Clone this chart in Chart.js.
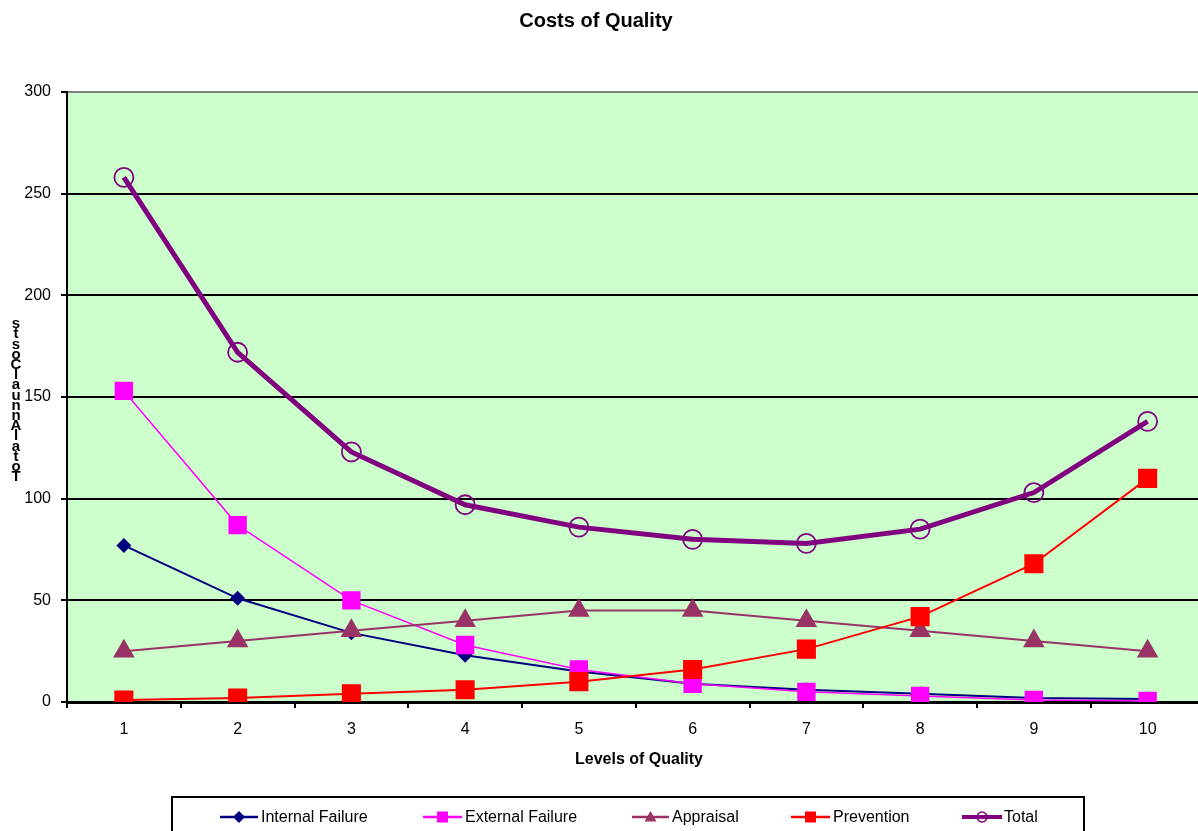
<!DOCTYPE html>
<html>
<head>
<meta charset="utf-8">
<script src="https://cdn.jsdelivr.net/npm/chart.js@4.4.1/dist/chart.umd.min.js"></script>
<style>
html,body{margin:0;padding:0;background:#fff;overflow:hidden;}
#wrap{width:1218px;height:831px;position:relative;}
</style>
</head>
<body>
<div id="wrap"><canvas id="c" width="1218" height="831"></canvas></div>
<script>
const categories = ['1','2','3','4','5','6','7','8','9','10'];
const internalFailure = [77, 51, 34, 23, 15, 9, 6, 4, 2, 1.5];
const externalFailure = [153, 87, 50, 28, 16, 9, 5, 3, 1, 0.5];
const appraisal = [25, 30, 35, 40, 45, 45, 40, 35, 30, 25];
const prevention = [1, 2, 4, 6, 10, 16, 26, 42, 68, 110];
const total = [258, 172, 123, 97, 86, 80, 78, 85, 103, 138];
const yTicks = [0, 50, 100, 150, 200, 250, 300];
const chartTitle = 'Costs of Quality';
const xTitle = 'Levels of Quality';
const yTitle = 'Total Annual Costs';

const FONT = '"Liberation Sans", Arial, sans-serif';

const seriesStyle = [
  {label:'Internal Failure', data: internalFailure, color:'#000080', width:2, style:'rectRot', r:7.5, fill:true, order:5},
  {label:'External Failure', data: externalFailure, color:'#FF00FF', width:1.5, style:'rect', r:13, fill:true, order:4},
  {label:'Appraisal', data: appraisal, color:'#993366', width:2, style:'triangle', r:12.5, fill:true, order:3},
  {label:'Prevention', data: prevention, color:'#FF0000', width:2, style:'rect', r:13.5, fill:true, order:2},
  {label:'Total', data: total, color:'#800080', width:5, style:'circle', r:9.5, fill:false, order:1}
];

const datasets = seriesStyle.map(s => ({
  label: s.label,
  data: s.data,
  borderColor: s.color,
  backgroundColor: s.color,
  borderWidth: s.width,
  pointStyle: s.style,
  pointRadius: s.r,
  pointHoverRadius: s.r,
  pointBackgroundColor: s.fill ? s.color : 'rgba(0,0,0,0)',
  pointBorderColor: s.color,
  pointBorderWidth: s.fill ? 0 : 1.8,
  tension: 0,
  order: s.order
}));

const bgPlugin = {
  id: 'bg',
  beforeDraw(chart) {
    const {ctx, chartArea: a} = chart;
    ctx.save();
    ctx.fillStyle = '#CCFFCC';
    ctx.fillRect(a.left, a.top, a.right - a.left, a.bottom - a.top);
    ctx.restore();
  }
};

function drawMarker(ctx, style, x, y, r, color, fill) {
  ctx.save();
  ctx.fillStyle = color; ctx.strokeStyle = color; ctx.lineWidth = 1.5;
  ctx.beginPath();
  if (style === 'rectRot') {
    ctx.moveTo(x, y - r); ctx.lineTo(x + r, y); ctx.lineTo(x, y + r); ctx.lineTo(x - r, y); ctx.closePath();
  } else if (style === 'rect') {
    ctx.rect(x - r, y - r, 2 * r, 2 * r);
  } else if (style === 'triangle') {
    ctx.moveTo(x, y - r); ctx.lineTo(x + r, y + r * 0.75); ctx.lineTo(x - r, y + r * 0.75); ctx.closePath();
  } else {
    ctx.arc(x, y, r, 0, Math.PI * 2);
  }
  if (fill) ctx.fill(); else ctx.stroke();
  ctx.restore();
}

const textPlugin = {
  id: 'texts',
  afterDraw(chart) {
    const ctx = chart.ctx;
    ctx.save();
    ctx.fillStyle = '#000';
    // title
    ctx.font = 'bold 20px ' + FONT;
    ctx.textAlign = 'center';
    ctx.textBaseline = 'middle';
    ctx.fillText(chartTitle, 596, 21);
    // x title
    ctx.font = 'bold 16px ' + FONT;
    ctx.fillText(xTitle, 639, 760);
    // y title: stacked characters, bottom to top
    ctx.font = 'bold 15px ' + FONT;
    const chars = yTitle.replace(/ /g, '').split('');
    let yy = 477;
    const step = 10.2;
    chars.forEach(ch => {
      ctx.fillText(ch, 16, yy);
      yy -= step;
    });
    // legend
    ctx.lineWidth = 2;
    ctx.strokeStyle = '#000';
    ctx.strokeRect(172, 797, 912, 50);
    const legendPos = [
      {x1:220, x2:258, tx:261},
      {x1:423, x2:462, tx:465},
      {x1:632, x2:669, tx:672},
      {x1:791, x2:830, tx:833},
      {x1:962, x2:1002, tx:1004}
    ];
    ctx.font = '16px ' + FONT;
    ctx.textAlign = 'left';
    seriesStyle.forEach((s, i) => {
      const p = legendPos[i];
      const ly = 817;
      ctx.save();
      ctx.strokeStyle = s.color;
      ctx.lineWidth = Math.max(2.5, Math.min(s.width, 4));
      ctx.beginPath(); ctx.moveTo(p.x1, ly); ctx.lineTo(p.x2, ly); ctx.stroke();
      ctx.restore();
      const mr = s.style === 'circle' ? 5 : (s.style === 'rect' ? 5.5 : 6);
      drawMarker(ctx, s.style, (p.x1 + p.x2) / 2, ly, mr, s.color, s.fill);
      ctx.fillStyle = '#000';
      ctx.fillText(s.label, p.tx, ly + 1);
    });
    ctx.restore();
  }
};

new Chart(document.getElementById('c'), {
  type: 'line',
  data: { labels: categories, datasets },
  options: {
    responsive: false,
    animation: false,
    events: [],
    layout: { padding: { left: 0, top: 92, right: 2, bottom: 0 } },
    plugins: { legend: { display: false }, title: { display: false }, tooltip: { enabled: false } },
    scales: {
      x: {
        type: 'category',
        offset: true,
        afterFit(scale) { scale.height = 129; scale.paddingRight = 0; scale.paddingLeft = 0; },
        grid: { offset: true, drawOnChartArea: false, color: '#000', lineWidth: 2, tickLength: 6, tickWidth: 2, tickColor: '#000' },
        border: { display: true, color: '#000', width: 3 },
        ticks: { color: '#000', font: { family: FONT, size: 16 }, padding: 12, maxRotation: 0 }
      },
      y: {
        min: 0, max: 300,
        afterFit(scale) { scale.width = 67; scale.paddingTop = 0; scale.paddingBottom = 0; },
        afterBuildTicks(scale) { scale.ticks = yTicks.map(v => ({ value: v })); },
        grid: {
          color: ctx => (ctx.tick && ctx.tick.value === 300) ? '#808080' : '#000',
          lineWidth: 2, tickLength: 6, tickColor: '#000'
        },
        border: { display: true, color: '#000', width: 2 },
        ticks: { color: '#000', font: { family: FONT, size: 16 }, padding: 10 }
      }
    }
  },
  plugins: [bgPlugin, textPlugin]
});
</script>
</body>
</html>
